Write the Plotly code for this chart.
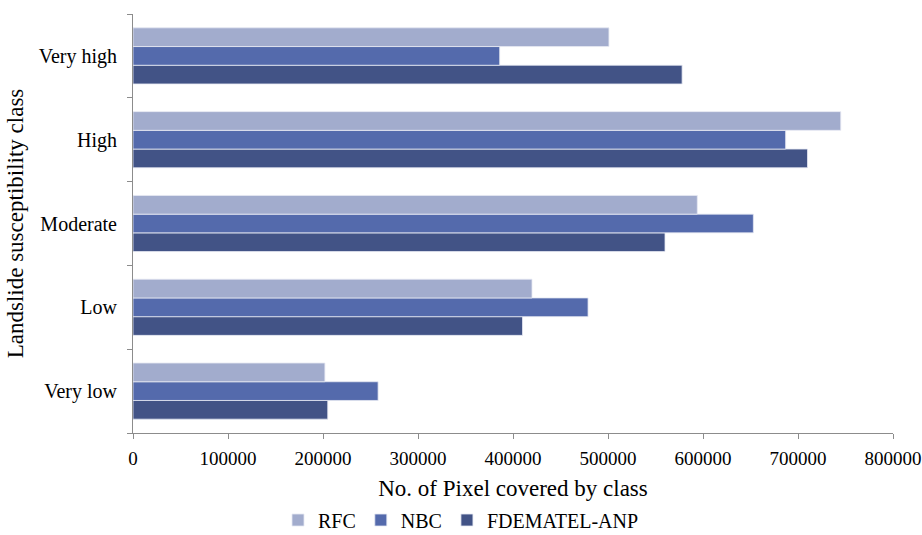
import plotly.graph_objects as go

# Landslide susceptibility classes (bottom to top on the chart)
classes = ["Very low", "Low", "Moderate", "High", "Very high"]

# Number of pixels covered by each class, per model
rfc = [202000, 420000, 594000, 745000, 501000]
nbc = [258000, 479000, 653000, 687000, 386000]
fdematel_anp = [205000, 410000, 560000, 710000, 578000]

x_ticks = [0, 100000, 200000, 300000, 400000, 500000, 600000, 700000, 800000]

font_family = "Liberation Serif, Times New Roman, serif"

fig = go.Figure()
# Plotly stacks grouped horizontal bars bottom-up, so add the lowest bar first
series = [
    ("FDEMATEL-ANP", fdematel_anp, "#425386"),
    ("NBC", nbc, "#546AAC"),
    ("RFC", rfc, "#A2ACCD"),
]
for name, vals, color in series:
    fig.add_trace(go.Bar(
        y=classes, x=vals, name=name, orientation="h",
        marker=dict(color=color, line=dict(color="#E6E9F2", width=0.8)),
    ))

fig.update_layout(
    width=922, height=535,
    margin=dict(l=133, r=29, t=14, b=102, autoexpand=False),
    barmode="group", bargap=0.33, bargroupgap=0,
    plot_bgcolor="white", paper_bgcolor="white",
    font=dict(family=font_family, size=19, color="black"),
    legend=dict(
        orientation="h", traceorder="reversed",
        x=0.5, xanchor="center", xref="container",
        y=0.028, yanchor="middle", yref="container",
        font=dict(size=20), itemwidth=30,
    ),
    xaxis=dict(
        range=[0, 800000], tickvals=x_ticks,
        ticktext=[str(v) for v in x_ticks],
        showgrid=False, zeroline=False, automargin=False,
        showline=True, linecolor="#8C8C8C", linewidth=1,
        ticks="outside", ticklen=5, tickcolor="#8C8C8C",
        ticklabelstandoff=3,
        title=dict(text="No. of Pixel covered by class", standoff=12),
        tickfont=dict(size=19),
    ),
    yaxis=dict(
        categoryorder="array", categoryarray=classes,
        showgrid=False, showline=True, linecolor="#8C8C8C", linewidth=1,
        ticks="outside", ticklen=5, tickcolor="#8C8C8C",
        tickson="boundaries", ticklabelstandoff=11, automargin=False,
        title=dict(text="Landslide susceptibility class", standoff=8),
        tickfont=dict(size=20),
    ),
)

fig.write_html("out.html")
